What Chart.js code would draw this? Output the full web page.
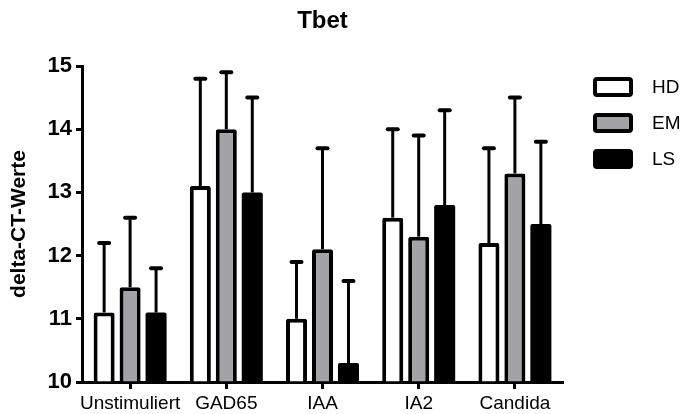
<!DOCTYPE html>
<html>
<head>
<meta charset="utf-8">
<script src="https://cdn.jsdelivr.net/npm/chart.js@4"></script>
<style>
  html, body { margin: 0; padding: 0; background: #fff; }
</style>
</head>
<body>
<canvas id="chart" width="689" height="414"></canvas>
<script>
/* ---- data ---- */
const categories = ['Unstimuliert', 'GAD65', 'IAA', 'IA2', 'Candida'];
const seriesNames = ['HD', 'EM', 'LS'];
const hdMean = [11.1, 13.1, 11.0, 12.6, 12.2];
const emMean = [11.5, 14.0, 12.1, 12.3, 13.3];
const lsMean = [11.1, 13.0, 10.3, 12.8, 12.5];
const hdSD = [1.1, 1.7, 0.9, 1.4, 1.5];
const emSD = [1.1, 0.9, 1.6, 1.6, 1.2];
const lsSD = [0.7, 1.5, 1.3, 1.5, 1.3];
const yMin = 10;
const yMax = 15;

const FONT = '"Liberation Sans", Arial, sans-serif';
const fills = ['#ffffff', '#a3a3a7', '#000000'];
const borders = [4, 4, 0];

/* ---- error bars (upper only) ---- */
const errorBars = {
  id: 'errorBars',
  afterDatasetsDraw(chart) {
    const ctx = chart.ctx;
    const y = chart.scales.y;
    chart.data.datasets.forEach((ds, di) => {
      chart.getDatasetMeta(di).data.forEach((bar, i) => {
        const top = y.getPixelForValue(ds.data[i]);
        const end = y.getPixelForValue(ds.data[i] + ds.sd[i]);
        ctx.save();
        ctx.strokeStyle = '#000';
        ctx.lineWidth = 3;
        ctx.beginPath();
        ctx.moveTo(bar.x, top);
        ctx.lineTo(bar.x, end);
        ctx.stroke();
        ctx.lineWidth = 4;
        ctx.lineCap = 'round';
        ctx.beginPath();
        ctx.moveTo(bar.x - 5, end);
        ctx.lineTo(bar.x + 5, end);
        ctx.stroke();
        ctx.restore();
      });
    });
  }
};

/* ---- title over plot area + legend on the right ---- */
const decor = {
  id: 'decor',
  afterDraw(chart) {
    const ctx = chart.ctx;
    const a = chart.chartArea;
    ctx.save();
    ctx.fillStyle = '#000';
    ctx.font = 'bold 24px ' + FONT;
    ctx.textAlign = 'center';
    ctx.textBaseline = 'middle';
    ctx.fillText('Tbet', (a.left + a.right) / 2, 21);

    chart.data.datasets.forEach((ds, i) => {
      const cy = a.top + 21 + i * 36;
      const bx = a.right + 32;
      ctx.beginPath();
      ctx.roundRect(bx, cy - 8, 36, 16, 2);
      ctx.fillStyle = ds.backgroundColor;
      ctx.fill();
      ctx.lineWidth = 4;
      ctx.strokeStyle = '#000';
      ctx.stroke();
      ctx.fillStyle = '#000';
      ctx.font = '19px ' + FONT;
      ctx.textAlign = 'left';
      ctx.fillText(ds.label, bx + 57, cy + 1);
    });
    ctx.restore();
  }
};

const means = [hdMean, emMean, lsMean];
const sds = [hdSD, emSD, lsSD];

new Chart(document.getElementById('chart'), {
  type: 'bar',
  data: {
    labels: categories,
    datasets: seriesNames.map((name, i) => ({
      label: name,
      data: means[i],
      sd: sds[i],
      base: yMin,
      backgroundColor: fills[i],
      borderColor: '#000',
      borderWidth: borders[i],
      borderRadius: 2,
      borderSkipped: 'start',
      inflateAmount: 0,
      barPercentage: 0.81,
      categoryPercentage: 0.81
    }))
  },
  options: {
    responsive: false,
    animation: false,
    layout: { padding: { top: 66, right: 126, left: 0, bottom: 0 } },
    plugins: {
      legend: { display: false },
      title: { display: false },
      tooltip: { enabled: false }
    },
    scales: {
      x: {
        afterFit: s => { s.height = 32; },
        grid: {
          display: true,
          drawOnChartArea: false,
          offset: false,
          tickLength: 7,
          tickWidth: 3,
          tickColor: '#000'
        },
        border: { display: true, color: '#000', width: 3 },
        ticks: {
          color: '#000',
          padding: 3,
          autoSkip: false,
          maxRotation: 0,
          minRotation: 0,
          font: { family: FONT, size: 19 }
        }
      },
      y: {
        min: yMin,
        max: yMax,
        afterFit: s => { s.width = 82; },
        grid: {
          display: true,
          drawOnChartArea: false,
          tickLength: 6,
          tickWidth: 3,
          tickColor: '#000'
        },
        border: { display: true, color: '#000', width: 3 },
        ticks: {
          stepSize: 1,
          color: '#000',
          padding: 4,
          font: { family: FONT, size: 22, weight: 'bold' }
        },
        title: {
          display: true,
          text: 'delta-CT-Werte',
          color: '#000',
          padding: { top: 7, bottom: 4 },
          font: { family: FONT, size: 21, weight: 'bold' }
        }
      }
    }
  },
  plugins: [errorBars, decor]
});
</script>
</body>
</html>
